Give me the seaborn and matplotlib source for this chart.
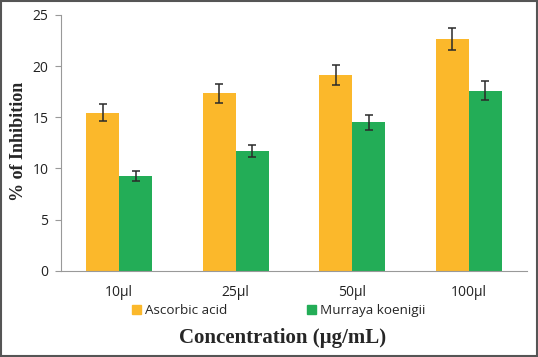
import pandas as pd
import matplotlib
matplotlib.use('Agg')
import matplotlib.pyplot as plt
import seaborn as sns

# Data
concentrations = ['10µl', '25µl', '50µl', '100µl']
ascorbic = [15.45, 17.35, 19.15, 22.65]
ascorbic_err = [0.8, 0.95, 1.0, 1.1]
murraya = [9.25, 11.7, 14.5, 17.6]
murraya_err = [0.5, 0.6, 0.75, 0.9]
series = ['Ascorbic acid', 'Murraya koenigii']
colors = ['#FBB82B', '#23AD57']

df = pd.DataFrame({
    'Concentration': concentrations * 2,
    'Inhibition': ascorbic + murraya,
    'err': ascorbic_err + murraya_err,
    'Series': [series[0]] * 4 + [series[1]] * 4,
})

sns.set_style('white')
tick_font = 'Open Sans'
label_font = 'Liberation Serif'

fig = plt.figure(figsize=(5.38, 3.57), dpi=100)
ax = fig.add_axes([0.1134, 0.2417, 0.8662, 0.7163])

sns.barplot(data=df, x='Concentration', y='Inhibition', hue='Series',
            order=concentrations, hue_order=series, palette=colors,
            width=0.57, errorbar=None, saturation=1, legend=False,
            linewidth=0, edgecolor='none', ax=ax)

# error bars at each bar's centre
for patch, (_, row) in zip(ax.patches, df.iterrows()):
    xc = patch.get_x() + patch.get_width() / 2
    ax.errorbar(xc, row['Inhibition'], yerr=row['err'], fmt='none',
                ecolor='#2a2a2a', elinewidth=1.1, capsize=3, capthick=1.1)

ax.set_ylim(0, 25)
ax.set_xlim(-0.5, 3.5)
ax.set_yticks([0, 5, 10, 15, 20, 25])
ax.set_xticks(range(4))
ax.set_xticks([0.5, 1.5, 2.5, 3.5], minor=True)
ax.tick_params(axis='x', which='major', length=0, pad=10)
ax.tick_params(axis='x', which='minor', length=4, color='#999999', width=0.8, direction='out')
ax.tick_params(axis='y', length=4, color='#999999', width=0.8, direction='out', pad=5)
ax.tick_params(axis='both', bottom=True, left=True)
for lab in ax.get_xticklabels() + ax.get_yticklabels():
    lab.set_fontfamily(tick_font)
    lab.set_fontsize(10)
    lab.set_color('#222222')

sns.despine(ax=ax)
for side in ['left', 'bottom']:
    ax.spines[side].set_color('#999999')
    ax.spines[side].set_linewidth(0.8)

ax.set_xlabel('')
ax.set_ylabel('')
fig.text(19 / 538, 1 - 141 / 357, '% of Inhibition', rotation=90, ha='center', va='center',
         fontfamily=label_font, fontweight='bold', fontsize=13)
fig.text(283 / 538, 1 - 338 / 357, 'Concentration (µg/mL)', ha='center', va='center',
         fontfamily=label_font, fontweight='bold', fontsize=15)

handles = [plt.Rectangle((0, 0), 1, 1, color=c) for c in colors]
fig.legend(handles, series, loc='center', bbox_to_anchor=(0.518, 0.130),
           ncol=2, frameon=False, prop={'family': tick_font, 'size': 9.7},
           handlelength=0.7, handleheight=0.7, handletextpad=0.3,
           columnspacing=5.9)

# grey frame around the whole picture
fig.patches.append(plt.Rectangle((0.002, 0.003), 0.996, 0.994, transform=fig.transFigure,
                                 fill=False, edgecolor='#555555', linewidth=1.5))

fig.savefig('out.png', dpi=100)
